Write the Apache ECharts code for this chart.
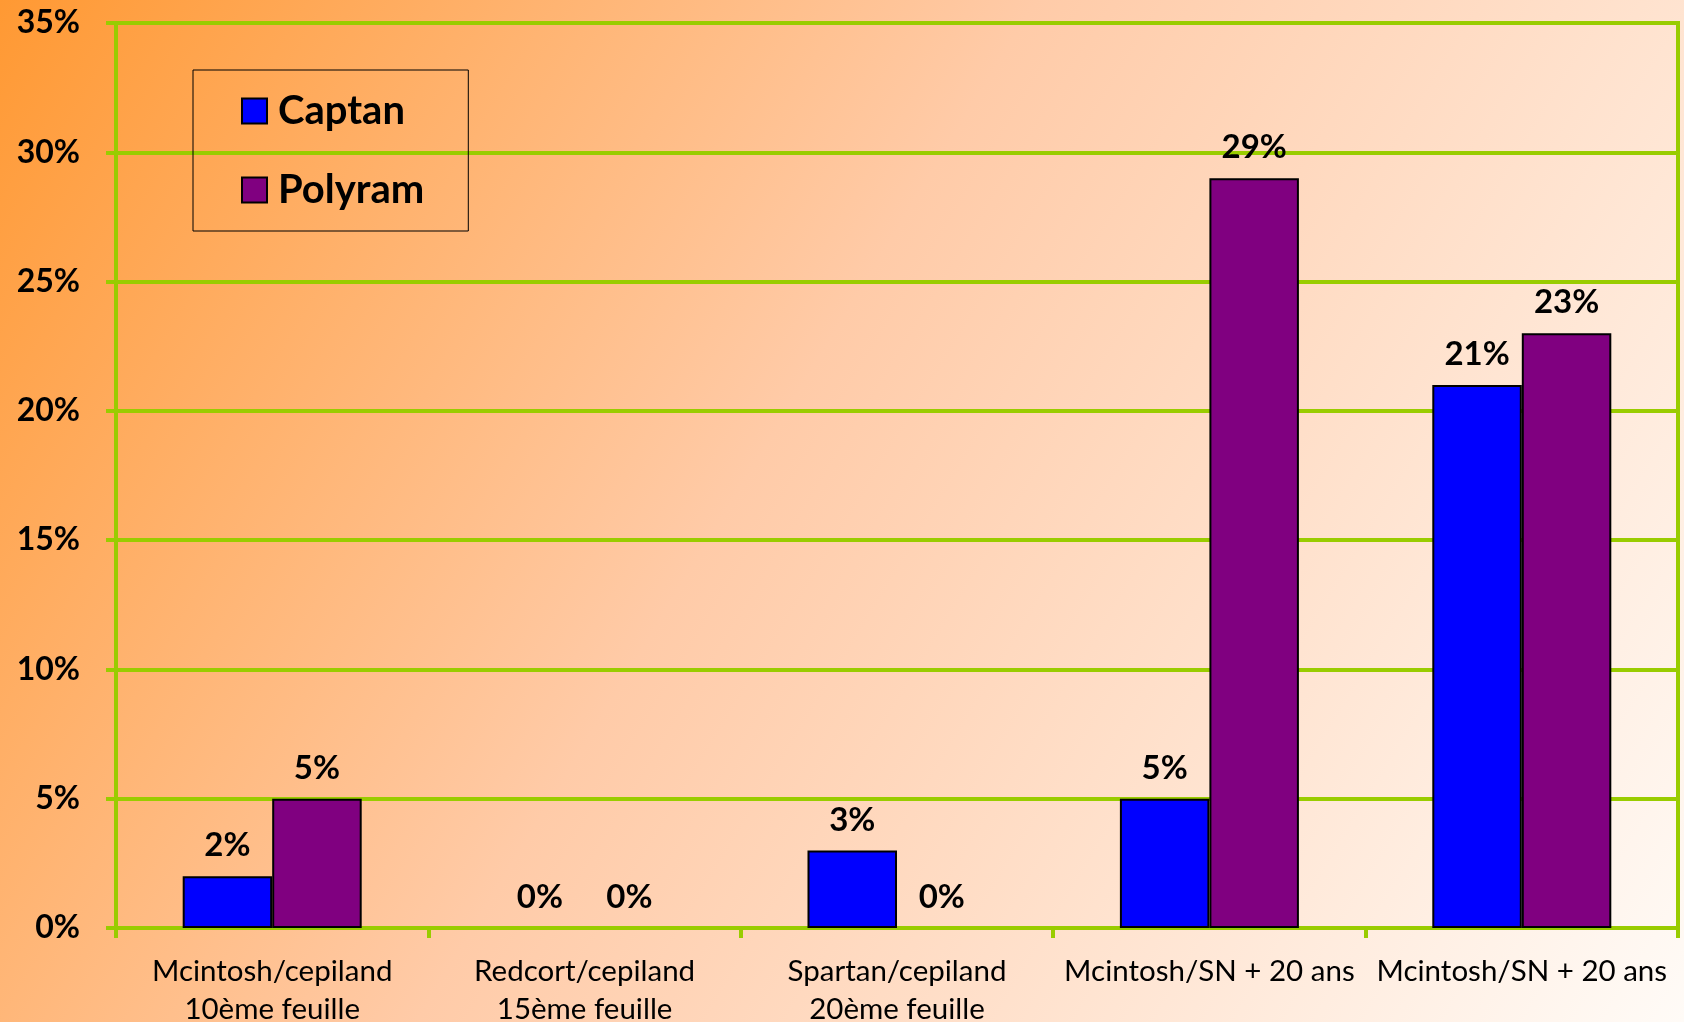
<!DOCTYPE html>
<html>
<head>
<meta charset="utf-8">
<title>Captan / Polyram</title>
<script src="https://cdn.jsdelivr.net/npm/echarts@6/dist/echarts.min.js"></script>
<style>
  html, body { margin: 0; padding: 0; }
  #chart { width: 1684px; height: 1022px; }
</style>
</head>
<body>
<div id="chart"></div>
<script>
const categories = [
  "Mcintosh/cepiland\n10ème feuille",
  "Redcort/cepiland\n15ème feuille",
  "Spartan/cepiland\n20ème feuille",
  "Mcintosh/SN + 20 ans",
  "Mcintosh/SN + 20 ans"
];
const captan = [2, 0, 3, 5, 21];
const polyram = [5, 0, 0, 29, 23];

const green = "#99CC00";
const fontFamily = "Lato, 'Open Sans', sans-serif";

// zero bars: no outline, only the label
const toItems = arr => arr.map(v => v === 0 ? { value: v, itemStyle: { borderWidth: 0 } } : v);

const chart = echarts.init(document.getElementById("chart"));

const barLabel = {
  show: true,
  position: "top",
  distance: 14,
  formatter: "{c}%",
  color: "#000",
  fontSize: 33,
  fontWeight: "bold",
  fontFamily: fontFamily
};

chart.setOption({
  backgroundColor: new echarts.graphic.LinearGradient(0, 0, 1, 1, [
    { offset: 0, color: "#FF9933" },
    { offset: 0.45, color: "#FFCBA8" },
    { offset: 1, color: "#FFFBF7" }
  ]),
  textStyle: { fontFamily: fontFamily },
  grid: {
    left: 116,
    right: 6,
    top: 23,
    bottom: 94,
    outerBoundsMode: "none",
    show: true,
    borderColor: green,
    borderWidth: 4
  },
  legend: {
    orient: "vertical",
    left: 193,
    top: 70,
    borderColor: "#000",
    borderWidth: 1,
    padding: [21, 44, 21, 48],
    itemWidth: 25,
    itemHeight: 25,
    itemGap: 39,
    icon: "rect",
    textStyle: {
      fontSize: 40,
      fontWeight: "bold",
      color: "#000",
      lineHeight: 40,
      padding: [0, 0, 0, 6]
    }
  },
  xAxis: {
    type: "category",
    data: categories,
    axisLine: { lineStyle: { color: green, width: 4 } },
    axisTick: { show: true, length: 10, lineStyle: { color: green, width: 4 } },
    axisLabel: {
      interval: 0,
      margin: 24,
      color: "#000",
      fontSize: 29.5,
      lineHeight: 38
    }
  },
  yAxis: {
    type: "value",
    min: 0,
    max: 35,
    interval: 5,
    axisLine: { show: true, lineStyle: { color: green, width: 4 } },
    axisTick: { show: true, length: 10, lineStyle: { color: green, width: 4 } },
    splitLine: { lineStyle: { color: green, width: 4 } },
    axisLabel: {
      formatter: "{value}%",
      margin: 36,
      color: "#000",
      fontSize: 32,
      fontWeight: "bold"
    }
  },
  series: [
    {
      name: "Captan",
      type: "bar",
      data: toItems(captan),
      barGap: "0%",
      barCategoryGap: "42.7%",
      itemStyle: { color: "#0000FF", borderColor: "#000", borderWidth: 2 },
      label: barLabel
    },
    {
      name: "Polyram",
      type: "bar",
      data: toItems(polyram),
      itemStyle: { color: "#800080", borderColor: "#000", borderWidth: 2 },
      label: barLabel
    }
  ]
});
</script>
</body>
</html>
